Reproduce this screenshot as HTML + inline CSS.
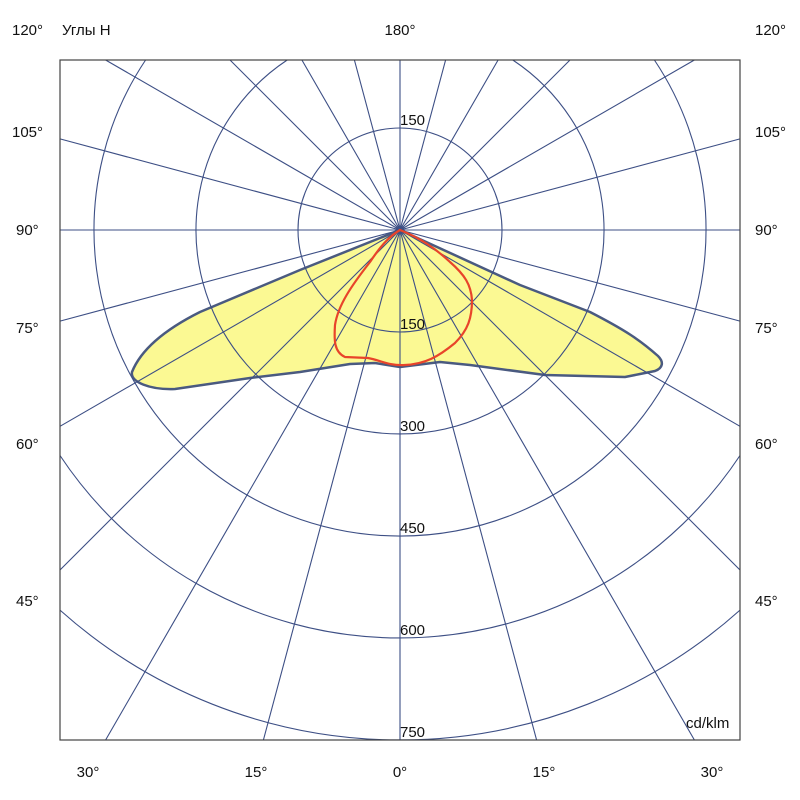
<!DOCTYPE html>
<html><head><meta charset="utf-8"><style>html,body{margin:0;padding:0;background:#fff;overflow:hidden;width:800px;height:800px}svg{display:block}</style></head><body>
<svg width="800" height="800" viewBox="0 0 800 800" xmlns="http://www.w3.org/2000/svg" font-family="Liberation Sans, sans-serif" font-size="15">
<rect width="800" height="800" fill="#fff"/>
<path fill="#fbf993" stroke="#4a5a80" stroke-width="2.5" stroke-linejoin="round" d="M400,230 L300,270 L200,312 C160,332 140,352 132,372 C130,382 150,390 175,389 L250,378 L300,372 L350,364 L375,363 L400,367 L440,362 L470,365 L545,375 L625,377 L640,374 L655,371 C663,368 664,362 658,356 C640,340 625,330 590,312 L520,285 Z"/>
<g stroke="#3d4f85" stroke-width="1.1" fill="none">
<circle cx="400" cy="230" r="102"/>
<path d="M512.8,60 A204,204 0 1 1 287.2,60"/>
<path d="M654.4,60 A306,306 0 1 1 145.6,60"/>
<path d="M740,455.5 A408,408 0 0 1 60,455.5"/>
<path d="M740,610.1 A510,510 0 0 1 60,610.1"/>
<path d="M400,230 L400,740 M400,230 L400,60 M400,230 L263.4,740 M400,230 L105.6,740 M400,230 L60,570 M400,230 L60,426.3 M400,230 L60,321.1 M400,230 L60,230 M400,230 L60,138.9 M400,230 L105.6,60 M400,230 L230,60 M400,230 L301.9,60 M400,230 L354.4,60
M400,230 L536.6,740 M400,230 L694.4,740 M400,230 L740,570 M400,230 L740,426.3 M400,230 L740,321.1 M400,230 L740,230 M400,230 L740,138.9 M400,230 L694.4,60 M400,230 L570,60 M400,230 L498.1,60 M400,230 L445.6,60"/>
</g>
<path fill="none" stroke="#e8442a" stroke-width="2.2" d="M400,230 C390,236 382,244 370,262 C352,285 338,305 335,325 C334,340 334,352 345,357 L368,358 C380,360 388,366 405,365 C425,364 438,357 455,343 C468,330 472,318 472,300 C471,285 465,275 450,262 C435,248 420,238 400,230 Z"/>
<rect x="60" y="60" width="680" height="680" fill="none" stroke="#444" stroke-width="1.2"/>
<g fill="#111">
<text x="400" y="125">150</text>
<text x="400" y="329">150</text>
<text x="400" y="431">300</text>
<text x="400" y="533">450</text>
<text x="400" y="635">600</text>
<text x="400" y="737">750</text>
<text x="686" y="728">cd/klm</text>
<text x="400" y="35" text-anchor="middle">180°</text>
<text x="12" y="35">120°</text><text x="62" y="35">Углы H</text>
<text x="755" y="35">120°</text>
<text x="12" y="137">105°</text><text x="755" y="137">105°</text>
<text x="16" y="235">90°</text><text x="755" y="235">90°</text>
<text x="16" y="333">75°</text><text x="755" y="333">75°</text>
<text x="16" y="449">60°</text><text x="755" y="449">60°</text>
<text x="16" y="606">45°</text><text x="755" y="606">45°</text>
<text x="88" y="777" text-anchor="middle">30°</text>
<text x="256" y="777" text-anchor="middle">15°</text>
<text x="400" y="777" text-anchor="middle">0°</text>
<text x="544" y="777" text-anchor="middle">15°</text>
<text x="712" y="777" text-anchor="middle">30°</text>
</g>
</svg>
</body></html>
